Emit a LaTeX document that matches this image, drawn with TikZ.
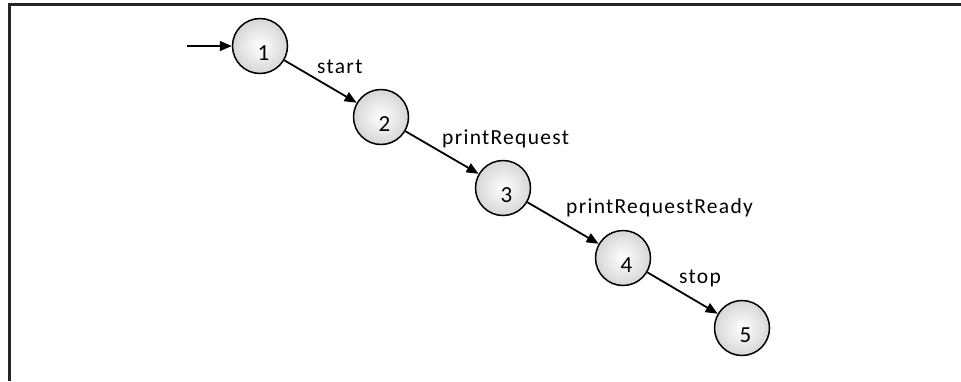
\documentclass[tikz,border=0pt]{standalone}
\usepackage{fontspec}
\setmainfont{Carlito}
\usetikzlibrary{arrows.meta}
\tikzset{
  state/.style={circle, draw=black, line width=1.5pt, minimum size=55pt, inner sep=0pt,
    shading=radial, inner color=white, outer color=black!16},
  num/.style={font=\fontsize{23}{27}\selectfont},
  elabel/.style={font=\fontsize{21.5}{25}\selectfont\addfontfeature{LetterSpace=6}, anchor=base west, inner sep=0pt},
  trans/.style={line width=1.8pt, -{Triangle[length=12pt,width=10pt]}},
  frame/.style={line width=2.2pt, black!85}
}
\begin{document}
\begin{tikzpicture}[x=1pt,y=-1pt]
\useasboundingbox (0,0) rectangle (961,381);
\draw[frame] (9.5,381) -- (9.5,4.5) -- (961,4.5);
\node[state, label={[num, shift={(3.5pt,-7pt)}]center:1}] (n1) at (260,46) {};
\node[state, label={[num, shift={(3.5pt,-7pt)}]center:2}] (n2) at (381,117) {};
\node[state, label={[num, shift={(3.5pt,-7pt)}]center:3}] (n3) at (503,188) {};
\node[state, label={[num, shift={(3.5pt,-7pt)}]center:4}] (n4) at (623,258) {};
\node[state, label={[num, shift={(3.5pt,-7pt)}]center:5}] (n5) at (742,328) {};
\coordinate (init) at (187,46);
\draw[trans] (init) -- (n1.west);
\draw[trans] (n1) -- (n2);
\draw[trans] (n2) -- (n3);
\draw[trans] (n3) -- (n4);
\draw[trans] (n4) -- (n5);
\node[elabel] (l1) at (317,73) {start};
\node[elabel] (l2) at (442,144) {printRequest};
\node[elabel] (l3) at (566,213) {printRequestReady};
\node[elabel] (l4) at (679,283) {stop};
\end{tikzpicture}
\end{document}
